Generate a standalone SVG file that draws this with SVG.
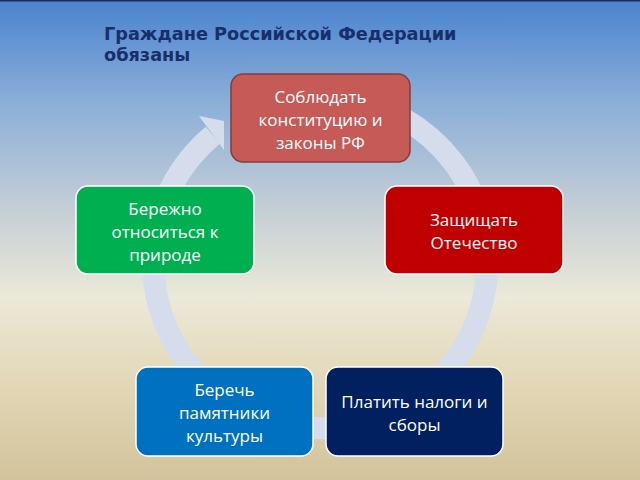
<svg xmlns="http://www.w3.org/2000/svg" width="640" height="480" viewBox="0 0 640 480">
<defs>
<linearGradient id="bg" x1="0" y1="0" x2="0" y2="1">
<stop offset="0" stop-color="#4a83d0"/>
<stop offset="0.22" stop-color="#8db0d8"/>
<stop offset="0.45" stop-color="#c8d0d6"/>
<stop offset="0.62" stop-color="#ebe9d8"/>
<stop offset="0.8" stop-color="#e3d7b7"/>
<stop offset="1" stop-color="#d2c39b"/>
</linearGradient>
<style>
.box{stroke:#ffffff;stroke-width:1.5}
.lbl{font-family:"Open Sans","Liberation Sans",sans-serif;font-size:17px;fill:#ffffff;text-anchor:middle}
.title{font-family:"DejaVu Sans",sans-serif;font-weight:bold;font-size:17.7px;fill:#172f6b}
</style>
</defs>
<rect x="0" y="0" width="640" height="480" fill="url(#bg)"/>
<rect x="0" y="0" width="640" height="1.5" fill="#1f2a5a"/>
<text class="title" x="104" y="40">Граждане Российской Федерации</text>
<text class="title" x="104" y="61">обязаны</text>
<g id="connectors">
<path d="M403,118.2 A167,166 0 1 1 212.8,135.2" fill="none" stroke="#d5ddec" stroke-width="22"/>
<polygon points="199,116 224,150 224,121" fill="#d5ddec"/>
</g>
<g id="n1">
<rect x="231" y="74" width="179" height="88" rx="12" fill="#c55a57" stroke="#8b3a38" stroke-width="1.5"/>
<text class="lbl" x="320.5" y="103">Соблюдать</text>
<text class="lbl" x="320.5" y="126">конституцию и</text>
<text class="lbl" x="320.5" y="149">законы РФ</text>
</g>
<g id="n2">
<rect class="box" x="385" y="186" width="178" height="88" rx="12" fill="#c00000"/>
<text class="lbl" x="474" y="226">Защищать</text>
<text class="lbl" x="474" y="249">Отечество</text>
</g>
<g id="n3">
<rect class="box" x="326" y="367" width="177" height="89" rx="12" fill="#002060"/>
<text class="lbl" x="414.5" y="408">Платить налоги и</text>
<text class="lbl" x="414.5" y="431">сборы</text>
</g>
<g id="n4">
<rect class="box" x="136" y="367" width="177" height="89" rx="12" fill="#0070c0"/>
<text class="lbl" x="224.5" y="396">Беречь</text>
<text class="lbl" x="224.5" y="419">памятники</text>
<text class="lbl" x="224.5" y="442">культуры</text>
</g>
<g id="n5">
<rect class="box" x="76" y="186" width="178" height="88" rx="12" fill="#00b050"/>
<text class="lbl" x="165" y="215">Бережно</text>
<text class="lbl" x="165" y="238">относиться к</text>
<text class="lbl" x="165" y="261">природе</text>
</g>
</svg>
